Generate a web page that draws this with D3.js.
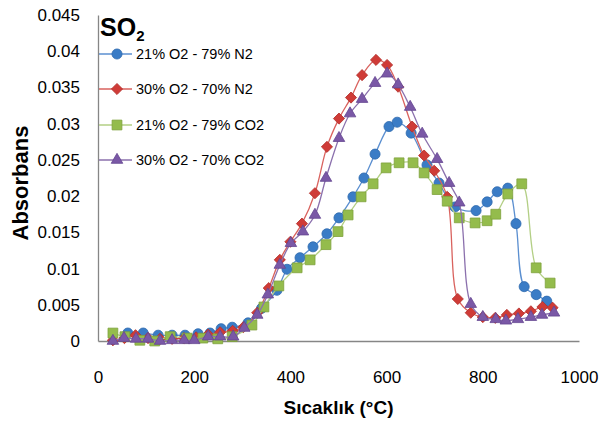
<!DOCTYPE html>
<html>
<head>
<meta charset="utf-8">
<script src="https://cdn.jsdelivr.net/npm/d3@7"></script>
<style>
  body { margin: 0; background: #fff; }
  text { font-family: "Liberation Sans", Arial, sans-serif; }
</style>
</head>
<body>
<svg id="chart" width="600" height="421"></svg>
<script>
// temperatures (°C) and absorbance for each gas mixture
const tempN21 = [62, 94, 125, 154, 181, 208, 233, 256, 279, 312, 340, 372, 393, 420, 447, 476, 501, 530, 553, 576, 605, 622, 651, 684, 709, 742, 786, 809, 830, 852, 869, 886, 911, 933]
const absN21 = [0.0011, 0.0011, 0.0008, 0.0008, 0.0008, 0.0010, 0.0011, 0.0017, 0.0019, 0.0025, 0.0045, 0.0070, 0.0099, 0.0115, 0.0130, 0.0148, 0.0170, 0.0199, 0.0225, 0.0258, 0.0296, 0.0302, 0.0287, 0.0243, 0.0218, 0.0185, 0.0180, 0.0192, 0.0206, 0.0211, 0.0162, 0.0075, 0.0064, 0.0055]

const tempN30 = [31, 55, 78, 104, 129, 154, 179, 204, 229, 254, 280, 302, 331, 355, 378, 400, 424, 451, 476, 501, 526, 549, 578, 601, 624, 653, 678, 699, 726, 748, 775, 800, 826, 850, 875, 900, 924, 945]
const absN30 = [0.0001, 0.0004, 0.0008, 0.0004, 0.0003, 0.0003, 0.0004, 0.0005, 0.0009, 0.0012, 0.0014, 0.0019, 0.0039, 0.0073, 0.0112, 0.0137, 0.0162, 0.0204, 0.0268, 0.0307, 0.0336, 0.0367, 0.0388, 0.0381, 0.0351, 0.0296, 0.0256, 0.0235, 0.0199, 0.0058, 0.0039, 0.0033, 0.0032, 0.0036, 0.0038, 0.0041, 0.0047, 0.0046]

const tempC21 = [31, 56, 87, 118, 150, 185, 218, 249, 279, 320, 345, 376, 414, 441, 474, 499, 520, 547, 572, 599, 626, 655, 678, 705, 726, 751, 784, 809, 827, 852, 881, 911, 940]
const absC21 = [0.0011, 0.0006, 0.0001, 0.0000, 0.0006, 0.0004, 0.0004, 0.0003, 0.0006, 0.0022, 0.0047, 0.0076, 0.0101, 0.0112, 0.0133, 0.0151, 0.0174, 0.0199, 0.0217, 0.0239, 0.0246, 0.0246, 0.0232, 0.0209, 0.0193, 0.0170, 0.0163, 0.0166, 0.0175, 0.0203, 0.0217, 0.0101, 0.0080]

const tempC30 = [31, 54, 79, 104, 129, 154, 179, 200, 229, 254, 281, 304, 331, 353, 378, 401, 426, 451, 474, 501, 524, 549, 576, 601, 624, 649, 674, 705, 730, 751, 775, 800, 827, 848, 873, 900, 923, 948]
const absC30 = [0.0000, 0.0004, 0.0003, 0.0003, 0.0000, 0.0001, 0.0001, 0.0001, 0.0006, 0.0006, 0.0006, 0.0018, 0.0036, 0.0064, 0.0105, 0.0135, 0.0151, 0.0174, 0.0225, 0.0280, 0.0314, 0.0334, 0.0356, 0.0369, 0.0354, 0.0323, 0.0286, 0.0251, 0.0218, 0.0191, 0.0051, 0.0033, 0.0030, 0.0028, 0.0030, 0.0033, 0.0036, 0.0039]

const seriesNames = ['21% O2 - 79% N2', '30% O2 - 70% N2', '21% O2 - 79% CO2', '30% O2 - 70% CO2']
const xTicks = [0, 200, 400, 600, 800, 1000]
const yTicks = [0, 0.005, 0.01, 0.015, 0.02, 0.025, 0.03, 0.035, 0.04, 0.045]

const series = [
  { name: seriesNames[0], t: tempN21, v: absN21, line: '#5b8fd0', fill: '#3a7cc6', stroke: '#2f69ad', shape: 'circle' },
  { name: seriesNames[1], t: tempN30, v: absN30, line: '#d9625e', fill: '#cf3b37', stroke: '#b3302c', shape: 'diamond' },
  { name: seriesNames[2], t: tempC21, v: absC21, line: '#b3cf85', fill: '#94bc4c', stroke: '#7fa23c', shape: 'square' },
  { name: seriesNames[3], t: tempC30, v: absC30, line: '#8b70ad', fill: '#7a58a6', stroke: '#644690', shape: 'triangle' }
]

const svg = d3.select('#chart')
const margin = { left: 98, right: 21, top: 15, bottom: 80 }
const width = 600, height = 421

const x = d3.scaleLinear().domain([0, 1000]).range([margin.left, width - margin.right])
const y = d3.scaleLinear().domain([0, 0.045]).range([height - margin.bottom, margin.top])

const axisColor = '#868686'

// axes without tick marks, just labels
const xAxis = d3.axisBottom(x).tickValues(xTicks).tickSize(0).tickPadding(30).tickFormat(d3.format('d'))
const yAxis = d3.axisLeft(y).tickValues(yTicks).tickSize(0).tickPadding(18).tickFormat(d => d === 0 ? '0' : String(+d.toFixed(3)))

const gx = svg.append('g').attr('transform', `translate(0,${y(0)})`).call(xAxis)
const gy = svg.append('g').attr('transform', `translate(${x(0)},0)`).call(yAxis)
for (const g of [gx, gy]) {
  g.select('.domain').attr('stroke', axisColor).attr('stroke-width', 1.3)
  g.selectAll('text').attr('fill', '#000').style('font-size', '17px').style('font-family', '"Liberation Sans", Arial, sans-serif')
}

// axis titles
svg.append('text')
  .attr('x', x(500)).attr('y', 414)
  .attr('text-anchor', 'middle')
  .style('font-size', '19px').style('font-weight', 'bold')
  .text('Sıcaklık (°C)')

svg.append('text')
  .attr('transform', `translate(28,${(y(0) + y(0.045)) / 2 + 5}) rotate(-90)`)
  .attr('text-anchor', 'middle')
  .style('font-size', '22px').style('font-weight', 'bold')
  .text('Absorbans')

// chart title SO2
const title = svg.append('text')
  .attr('x', 100).attr('y', 36)
  .style('font-size', '25px').style('font-weight', 'bold')
title.append('tspan').text('SO')
title.append('tspan').attr('dy', 5).style('font-size', '15px').text('2')

const symbolFor = shape => {
  if (shape === 'circle') return d3.symbol(d3.symbolCircle, 80)()
  if (shape === 'square') return d3.symbol(d3.symbolSquare, 96)()
  if (shape === 'triangle') return d3.symbol(d3.symbolTriangle, 58)()
  return d3.symbol(d3.symbolSquare, 62)()
}
const rotFor = shape => shape === 'diamond' ? ' rotate(45)' : ''

const line = d3.line()
  .x(d => x(d[0]))
  .y(d => y(d[1]))
  .curve(d3.curveCatmullRom.alpha(0.5))

// lines + markers, series in order so purple sits on top
series.forEach(s => {
  const pts = s.t.map((t, i) => [t, s.v[i]])
  const g = svg.append('g').attr('class', 'series')
  g.append('path')
    .datum(pts)
    .attr('fill', 'none')
    .attr('stroke', s.line)
    .attr('stroke-width', 1.3)
    .attr('d', line)
  g.selectAll('path.mark')
    .data(pts)
    .join('path')
    .attr('class', 'mark')
    .attr('d', symbolFor(s.shape))
    .attr('transform', d => `translate(${x(d[0])},${y(d[1])})${rotFor(s.shape)}`)
    .attr('fill', s.fill)
    .attr('stroke', s.stroke)
    .attr('stroke-width', 0.8)
})

// legend
const legend = svg.append('g')
const legendY = [54, 89, 125, 160]
series.forEach((s, i) => {
  const row = legend.append('g').attr('transform', `translate(0,${legendY[i]})`)
  row.append('line').attr('x1', 99).attr('x2', 132).attr('y1', 0).attr('y2', 0)
    .attr('stroke', s.line).attr('stroke-width', 1.3)
  row.append('path').attr('d', symbolFor(s.shape))
    .attr('transform', `translate(117,0)${rotFor(s.shape)}`)
    .attr('fill', s.fill).attr('stroke', s.stroke).attr('stroke-width', 0.8)
  row.append('text').attr('x', 136).attr('y', 5)
    .style('font-size', '14.5px')
    .text(s.name)
})
</script>
</body>
</html>
